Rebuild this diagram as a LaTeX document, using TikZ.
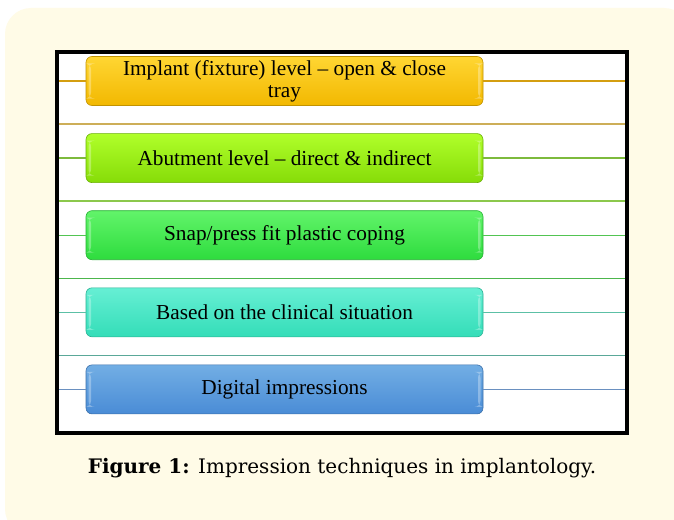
\documentclass[tikz,border=0pt]{standalone}
\usepackage{fontspec}
\setmainfont{Liberation Serif}
\newfontfamily\capfont{DejaVu Serif}
\usepackage{tikz}
\usetikzlibrary{positioning, calc, shadings}

% colours of the five technique bars
\definecolor{panelcream}{HTML}{FFFBE7}
\definecolor{impTop}{HTML}{FFD633}\definecolor{impBot}{HTML}{F2B800}\definecolor{impLine}{HTML}{D49E10}\definecolor{impSep}{HTML}{CDAE58}
\definecolor{abtTop}{HTML}{B0FF2A}\definecolor{abtBot}{HTML}{86DC08}\definecolor{abtLine}{HTML}{7DBA3C}\definecolor{abtSep}{HTML}{8CC84C}
\definecolor{snapTop}{HTML}{62F46A}\definecolor{snapBot}{HTML}{2EDC3E}\definecolor{snapLine}{HTML}{52C452}\definecolor{snapSep}{HTML}{4CB64C}
\definecolor{clinTop}{HTML}{66EFD4}\definecolor{clinBot}{HTML}{34DDB8}\definecolor{clinLine}{HTML}{5CC0A6}\definecolor{clinSep}{HTML}{5AA898}
\definecolor{digiTop}{HTML}{72AEE4}\definecolor{digiBot}{HTML}{4A8CD6}\definecolor{digiLine}{HTML}{6A90C0}

\tikzset{
  techbar/.style={rounded corners=6pt, minimum width=397pt, minimum height=49pt,
    align=center, inner sep=2pt, font=\fontsize{21.3}{22}\selectfont,
    path picture={
      \fill[white,opacity=.3] ([xshift=2.5pt,yshift=-7pt]path picture bounding box.north west)
        rectangle ([xshift=5pt,yshift=7pt]path picture bounding box.south west);
      \fill[white,opacity=.3] ([xshift=-5pt,yshift=-7pt]path picture bounding box.north east)
        rectangle ([xshift=-2.5pt,yshift=7pt]path picture bounding box.south east);
    }},
  bar/.style={techbar, top color=#1Top, bottom color=#1Bot, draw=#1Bot!80!black, line width=.6pt},
  guide/.style={line width=1.4pt}
}

\begin{document}
\begin{tikzpicture}[x=1pt,y=-1pt]

  % 1. page and cream panel
  \useasboundingbox (0,0) rectangle (674,519);
  \fill[white] (0,0) rectangle (674,519);
  \fill[panelcream, rounded corners=26pt] (5,8) rectangle (690,535);

  % 2. white frame
  \coordinate (fl) at (57,52);
  \coordinate (fr) at (627,433);
  \fill[white] (fl) rectangle (fr);

  % 3. the bars
  \node[bar=imp] (imp) at (284.5,81) {Implant (fixture) level -- open \& close\\tray};
  \node[bar=abt, below=27.5pt of imp] (abt) {Abutment level -- direct \& indirect};
  \node[bar=snap, below=27.5pt of abt] (snap) {Snap/press fit plastic coping};
  \node[bar=clin, below=27.5pt of snap] (clin) {Based on the clinical situation};
  \node[bar=digi, below=27.5pt of clin] (digi) {Digital impressions};

  % 4. guide lines through the bars, separators under them
  \foreach \n in {imp,abt,snap,clin,digi} {
    \draw[guide, \n Line] (fl |- \n) -- (\n.west);
    \draw[guide, \n Line] (\n.east) -- (fr |- \n);
  }
  \foreach \n in {imp,abt,snap,clin} {
    \draw[guide, \n Sep] ($(fl |- \n)+(0,43)$) -- ($(fr |- \n)+(0,43)$);
  }

  % 5. black border on top
  \draw[line width=3.5pt] (fl) rectangle (fr);

  % 6. caption
  \node (cap) at (342,468) {\capfont\fontsize{20}{23}\selectfont\textbf{Figure 1:} Impression techniques in implantology.};

\end{tikzpicture}
\end{document}
